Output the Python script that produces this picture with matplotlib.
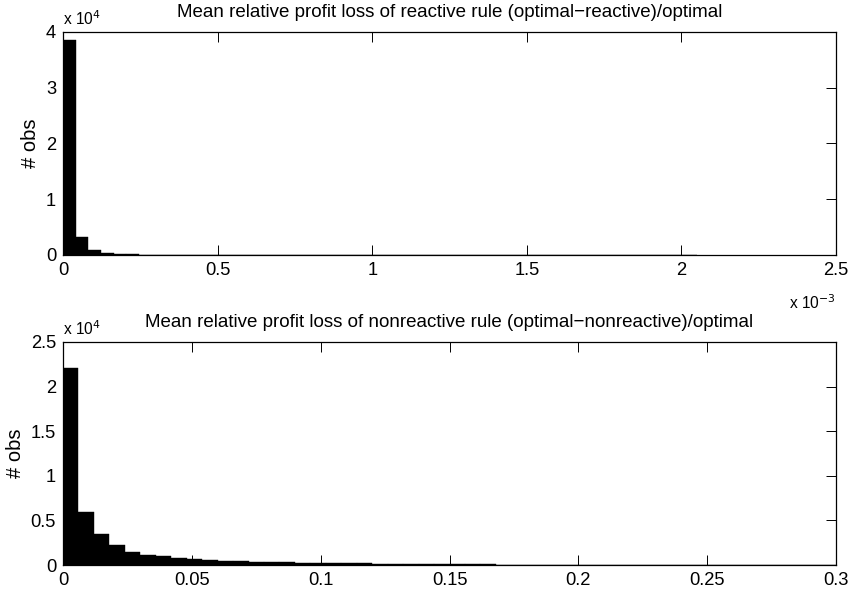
import numpy as np
import matplotlib
matplotlib.use("Agg")
import matplotlib.pyplot as plt
from matplotlib.ticker import FuncFormatter

plt.rcParams['font.family'] = ['Liberation Sans', 'DejaVu Sans']

# Top histogram: reactive rule (50 bins from 0 to 2.05e-3)
top_bin_width = 4.1e-5
top_counts = [38600, 3200, 900, 420, 220, 130, 85, 60, 45, 35,
              28, 22, 18, 15, 12, 10, 9, 8, 7, 6,
              5, 5, 4, 4, 3, 3, 3, 2, 2, 2,
              2, 2, 1, 1, 1, 1, 1, 1, 1, 1,
              1, 1, 1, 1, 1, 1, 1, 1, 1, 1]

# Bottom histogram: nonreactive rule (50 bins from 0 to 0.3)
bot_bin_width = 0.006
bot_counts = [22100, 5980, 3480, 2240, 1500, 1120, 970, 750, 640, 520,
              450, 410, 370, 340, 300, 270, 240, 210, 190, 170,
              150, 135, 120, 105, 95, 85, 75, 65, 55, 50,
              45, 40, 35, 30, 27, 24, 20, 18, 15, 13,
              11, 10, 8, 7, 6, 5, 4, 3, 2, 1]

top_title = "Mean relative profit loss of reactive rule (optimal\u2212reactive)/optimal"
bot_title = "Mean relative profit loss of nonreactive rule (optimal\u2212nonreactive)/optimal"

fig = plt.figure(figsize=(8.49, 5.92), dpi=100)
ax1 = fig.add_axes([0.0742, 0.5693, 0.9105, 0.3767])
ax2 = fig.add_axes([0.0742, 0.0456, 0.9105, 0.3767])

FS = 13.2
TFS = 13.5

def style(ax):
    ax.tick_params(direction='in', top=True, right=True, labelsize=FS,
                   length=7, width=0.7, pad=5)
    for s in ax.spines.values():
        s.set_linewidth(0.9)

# top
edges1 = np.arange(len(top_counts)) * top_bin_width
ax1.bar(edges1, top_counts, width=top_bin_width, align='edge',
        color='black', edgecolor='black', linewidth=0.3)
ax1.set_xlim(0, 2.5e-3)
ax1.set_ylim(0, 4e4)
ax1.set_xticks([0, 0.5e-3, 1e-3, 1.5e-3, 2e-3, 2.5e-3])
ax1.set_yticks([0, 1e4, 2e4, 3e4, 4e4])
ax1.xaxis.set_major_formatter(FuncFormatter(lambda v, p: f"{v*1e3:g}"))
ax1.yaxis.set_major_formatter(FuncFormatter(lambda v, p: f"{v/1e4:g}"))
ax1.set_title(top_title, fontsize=TFS, pad=11)
ax1.set_ylabel("# obs", fontsize=TFS + 1, labelpad=4)
ax1.text(0.0, 1.02, "x 10$^{4}$", transform=ax1.transAxes, fontsize=FS - 2,
         ha='left', va='bottom')
ax1.text(1.0, -0.17, "x 10$^{-3}$", transform=ax1.transAxes, fontsize=FS - 2,
         ha='right', va='top')
style(ax1)

# bottom
edges2 = np.arange(len(bot_counts)) * bot_bin_width
ax2.bar(edges2, bot_counts, width=bot_bin_width, align='edge',
        color='black', edgecolor='black', linewidth=0.3)
ax2.set_xlim(0, 0.3)
ax2.set_ylim(0, 2.5e4)
ax2.set_xticks([0, 0.05, 0.1, 0.15, 0.2, 0.25, 0.3])
ax2.set_yticks([0, 0.5e4, 1e4, 1.5e4, 2e4, 2.5e4])
ax2.xaxis.set_major_formatter(FuncFormatter(lambda v, p: f"{v:g}"))
ax2.yaxis.set_major_formatter(FuncFormatter(lambda v, p: f"{v/1e4:g}"))
ax2.set_title(bot_title, fontsize=TFS, pad=11)
ax2.set_ylabel("# obs", fontsize=TFS + 1, labelpad=4)
ax2.text(0.0, 1.02, "x 10$^{4}$", transform=ax2.transAxes, fontsize=FS - 2,
         ha='left', va='bottom')
style(ax2)

fig.savefig("out.png", dpi=100)
